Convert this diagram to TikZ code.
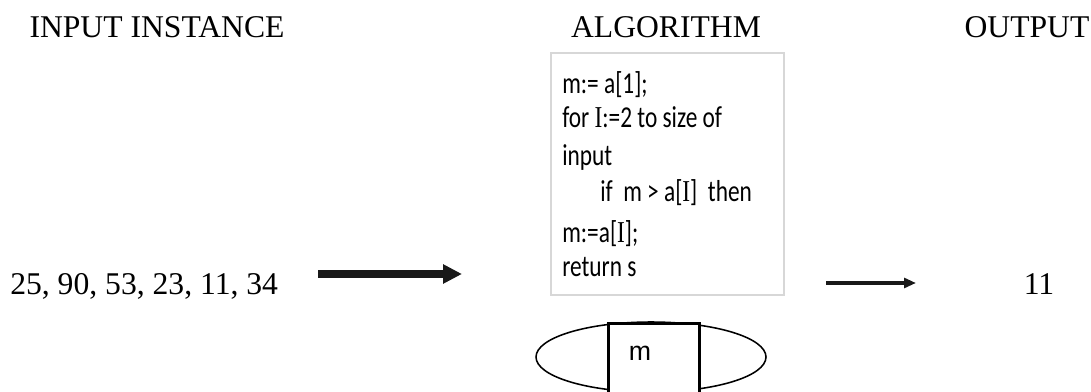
\documentclass[tikz,border=0pt]{standalone}
\usepackage{fontspec}
\setmainfont{Liberation Serif}
\newfontfamily\codefont{Carlito}
\newfontfamily\boxfont{Liberation Sans}
\usepackage{tikz}
\usetikzlibrary{arrows.meta}
\usepackage{xcolor}
\definecolor{boxgray}{RGB}{215,215,215}
\newcommand{\ivar}{{\rmfamily I}}

\begin{document}
\begin{tikzpicture}[x=0.025cm,y=-0.025cm,
    title/.style={font=\fontsize{22.5}{26}\selectfont,anchor=base},
    codeline/.style={font=\codefont\fontsize{16.6}{18}\selectfont,anchor=base west,inner sep=0pt}]
  \useasboundingbox (0,0) rectangle (1091,392);
  \clip (0,0) rectangle (1091,392);
  % headings
  \node[title] (tin) at(157,38){INPUT INSTANCE};
  \node[title] (talg) at(666,38){ALGORITHM};
  \node[title] (tout) at(1027,38){OUTPUT};
  % algorithm box
  \node[draw=boxgray,line width=1.4pt,minimum width=233*0.025cm,minimum height=242*0.025cm,
        inner sep=0pt,anchor=north west] (algo) at(550,52){};
  \foreach \yy/\t [count=\i] in {94/m:= a[1];, 128/for \ivar:=2 to size of, 166/input,
      202/\hspace*{27pt}if\ \ m > a[\ivar]\ \ then, 243/m:=a[\ivar];, 277/return s}
    \node[codeline] (code\i) at(562,\yy){\scalebox{1}[1.3]{\t}};
  % input and output
  \node[title,anchor=base west,inner sep=0pt] (nums) at(10,295){25, 90, 53, 23, 11, 34};
  \node[title,inner sep=0pt] (res) at(1039,295){11};
  \coordinate (a1s) at(318,274);
  \coordinate (a1e) at(462,274);
  \coordinate (a2s) at(826,283);
  \coordinate (a2e) at(916,283);
  \draw[line width=5pt,-{Triangle[length=13.5pt,width=13pt]},black!90](a1s)--(a1e);
  \draw[line width=2.6pt,-{Triangle[length=8.5pt,width=7pt]},black!90](a2s)--(a2e);
  % memory
  \draw[line width=1.1pt] (651,357) ellipse [x radius=115, y radius=35];
  \node[draw,fill=white,line width=2.2pt,anchor=north west,minimum width=91*0.025cm,
        minimum height=80*0.025cm,inner sep=0pt] (mem) at(607,322){};
  \node[font=\boxfont\fontsize{19}{22}\selectfont,inner sep=0pt] (mlab) at(640,353){m};
\end{tikzpicture}
\end{document}
